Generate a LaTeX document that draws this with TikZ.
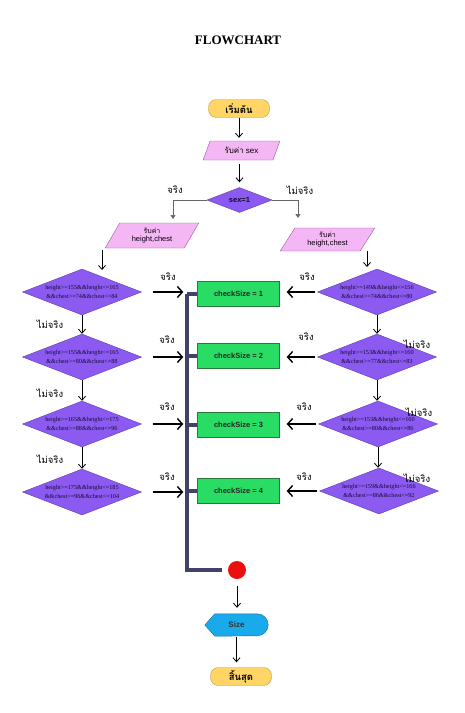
\documentclass[tikz,border=0pt]{standalone}
\usepackage{fontspec}
\setmainfont{Liberation Sans}
\newfontfamily\thai[Script=Thai]{Loma}
\newfontfamily\serif{Liberation Serif}
\usetikzlibrary{shapes.geometric,arrows.meta,backgrounds}

\definecolor{termfill}{RGB}{255,214,102}
\definecolor{termline}{RGB}{190,150,60}
\definecolor{infill}{RGB}{245,182,245}
\definecolor{inline}{RGB}{150,90,150}
\definecolor{decfill}{RGB}{140,90,240}
\definecolor{decline}{RGB}{90,60,170}
\definecolor{boxfill}{RGB}{40,220,100}
\definecolor{boxline}{RGB}{40,120,60}
\definecolor{barcol}{RGB}{65,65,105}
\definecolor{dotcol}{RGB}{235,15,15}
\definecolor{showfill}{RGB}{25,170,235}
\definecolor{showline}{RGB}{20,110,160}
\definecolor{dectext}{RGB}{20,10,50}

\begin{document}
\begin{tikzpicture}[x=1pt, y=1pt,
  terminal/.style={draw=termline, fill=termfill, rounded corners=8pt, minimum width=61pt, minimum height=18pt, inner sep=0pt, font=\thai\bfseries\fontsize{9.5}{9.5}\selectfont},
  inputbox/.style={trapezium, trapezium left angle=60, trapezium right angle=120, trapezium stretches=true, draw=inline, fill=infill, inner sep=0pt, align=center},
  decision/.style={diamond, aspect=2.6, draw=decline, fill=decfill, inner sep=0pt, minimum width=119pt, minimum height=46pt, align=center, text=dectext, font=\serif\fontsize{6.2}{8.5}\selectfont},
  sizebox/.style={draw=boxline, fill=boxfill, minimum width=82pt, minimum height=25pt, inner sep=0pt, font=\bfseries\fontsize{7.5}{8}\selectfont, text=black!85},
  lbl/.style={inner sep=0pt, font=\thai\fontsize{9.5}{10}\selectfont},
  arr/.style={-{Straight Barb[length=4pt,width=7pt]}, line width=0.8pt},
  tri/.style={-{Triangle[length=4pt,width=5pt]}, line width=0.6pt, draw=black!60},
  bigarr/.style={-{Straight Barb[length=5pt,width=11pt]}, line width=1.4pt},
  bar/.style={draw=barcol, line width=4pt}
]
\useasboundingbox (0,0) rectangle (464,-713);

\node (title) at (238,-40) {\serif\bfseries\fontsize{13}{13}\selectfont FLOWCHART};

\node[terminal] (start) at (239,-108.5) {เริ่มต้น};
\node[inputbox, minimum width=77pt, minimum height=19pt, font=\fontsize{8}{9}\selectfont] (insex) at (241.5,-150.5) {{\thai รับค่า} sex};
\node[decision, minimum width=65pt, minimum height=25pt, font=\bfseries\fontsize{7.5}{8}\selectfont] (sex) at (239.5,-200) {sex=1};

\node[inputbox, minimum width=94pt, minimum height=25pt, font=\fontsize{7.5}{8.5}\selectfont] (inL) at (152,-235.5) {{\thai\fontsize{7}{8}\selectfont รับค่า}\\height,chest};
\node[inputbox, minimum width=95pt, minimum height=23pt, font=\fontsize{7.5}{8.5}\selectfont] (inR) at (327.5,-239.5) {{\thai\fontsize{7}{8}\selectfont รับค่า}\\height,chest};

\node[decision] (dL1) at (82,-292) {height>=155\&\&height<=165\\\&\&chest>=74\&\&chest<=84};
\node[decision] (dL2) at (82,-357) {height>=155\&\&height<=165\\\&\&chest>=80\&\&chest<=88};
\node[decision] (dL3) at (82,-424) {height>=165\&\&height<=175\\\&\&chest>=88\&\&chest<=96};
\node[decision] (dL4) at (82,-492) {height>=175\&\&height<=185\\\&\&chest>=96\&\&chest<=104};

\node[decision] (dR1) at (377,-292) {height>=149\&\&height<=156\\\&\&chest>=74\&\&chest<=80};
\node[decision] (dR2) at (377,-357) {height>=153\&\&height<=160\\\&\&chest>=77\&\&chest<=83};
\node[decision] (dR3) at (378,-424) {height>=153\&\&height<=160\\\&\&chest>=80\&\&chest<=86};
\node[decision] (dR4) at (379,-491) {height>=159\&\&height<=166\\\&\&chest>=86\&\&chest<=92};

\node[sizebox] (box1) at (238.5,-293.5) {checkSize = 1};
\node[sizebox] (box2) at (238.5,-355.5) {checkSize = 2};
\node[sizebox] (box3) at (238.5,-424.5) {checkSize = 3};
\node[sizebox] (box4) at (238.5,-490.5) {checkSize = 4};

\node[circle, fill=dotcol, minimum size=18pt, inner sep=0pt] (dot) at (237,-570) {};
\node[minimum width=63pt, minimum height=22pt, inner sep=0pt, font=\bfseries\fontsize{8}{8}\selectfont, text=black!80] (show) at (236.5,-625) {Size};
\begin{scope}[on background layer]
  \draw[draw=showline, fill=showfill] ([xshift=10pt]show.north west) -- ([xshift=-11pt]show.north east)
    arc[start angle=90, end angle=-90, radius=11pt] -- ([xshift=10pt]show.south west) -- (show.west) -- cycle;
\end{scope}
\node[terminal] (finish) at (241,-676.5) {สิ้นสุด};

\node[lbl] (yes0) at (175,-190) {จริง};
\node[lbl] (no0) at (300,-190) {ไม่จริง};
\node[lbl] (noL1) at (50,-324) {ไม่จริง};
\node[lbl] (noL2) at (50,-393) {ไม่จริง};
\node[lbl] (noL3) at (50,-459) {ไม่จริง};
\node[lbl] (noR1) at (417,-344) {ไม่จริง};
\node[lbl] (noR2) at (419,-412) {ไม่จริง};
\node[lbl] (noR3) at (417,-478) {ไม่จริง};
\node[lbl] (yesL1) at (168,-277) {จริง};
\node[lbl] (yesL2) at (167,-340) {จริง};
\node[lbl] (yesL3) at (167,-407) {จริง};
\node[lbl] (yesL4) at (167,-477) {จริง};
\node[lbl] (yesR1) at (307,-277) {จริง};
\node[lbl] (yesR2) at (306,-337) {จริง};
\node[lbl] (yesR3) at (304,-407) {จริง};
\node[lbl] (yesR4) at (304,-477) {จริง};

\coordinate (tipL) at (173,-219);
\coordinate (tipR) at (298,-218);
\coordinate (tinL) at (102,-270);
\coordinate (tinR) at (367,-267);
\coordinate (bartop) at (187,-293.5);
\coordinate (barend) at (222,-570);

\draw[arr, shorten >=3pt] (start.south) -- (start.south |- insex.north);
\draw[arr, shorten <=4pt, shorten >=5pt] (insex.south -| sex.north) -- (sex.north);
\draw[tri] (sex.west) -| (tipL);
\draw[tri] (sex.east) -| (tipR);
\draw[arr, shorten <=2pt] (tinL |- inL.south) -- (tinL);
\draw[arr] (tinR |- inR.south) -- (tinR);

\foreach \i/\j in {1/2, 2/3, 3/4} {
  \draw[arr] (dL\i.south) -- (dL\j.north);
  \draw[arr] (dR\i.south) -- (dR\i.south |- dR\j.north);
}
\foreach \i in {1,...,4} {
  \draw[bigarr, shorten <=11pt, shorten >=14pt] (dL\i.east) -- (dL\i.east -| box\i.west);
  \draw[bigarr, shorten <=2pt, shorten >=7pt] (dR\i.west) -- (dR\i.west -| box\i.east);
  \draw[bar] (box\i.west) -- (box\i.west -| bartop);
}
\draw[bar] (bartop) |- (barend);

\draw[arr, shorten <=7pt, shorten >=6pt] (dot.south) -- (dot.south |- show.north);
\draw[arr, shorten <=1pt, shorten >=5pt] (show.south) -- (show.south |- finish.north);

\end{tikzpicture}
\end{document}
